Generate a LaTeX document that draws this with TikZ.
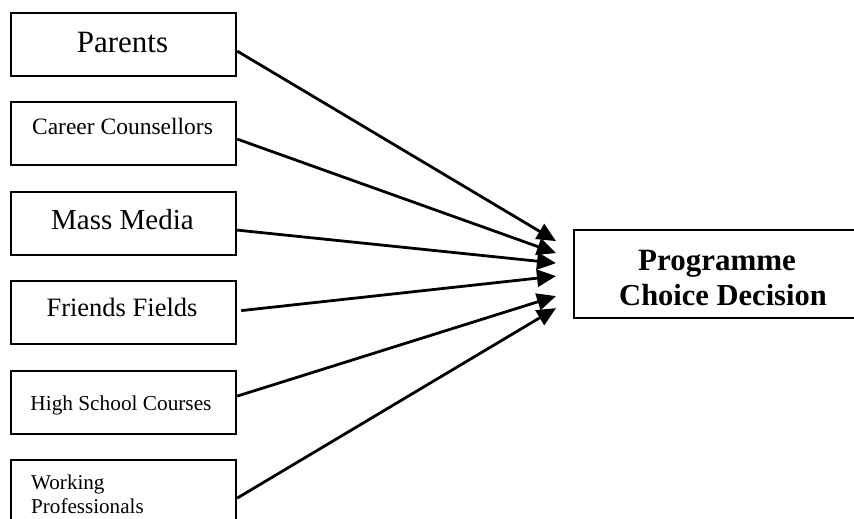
\documentclass[tikz,border=0pt]{standalone}
\usepackage{fontspec}
\setmainfont{Liberation Serif}
\usetikzlibrary{arrows.meta}
\begin{document}
\begin{tikzpicture}[x=1pt,y=1pt,
  srcbox/.style={draw,line width=2.2pt,rectangle,minimum width=225pt,minimum height=63pt,inner sep=0pt,anchor=north west},
  lbl/.style={inner sep=0pt,anchor=base},
  conn/.style={line width=2.8pt,-{Triangle[length=19pt,width=17pt]}}]
\useasboundingbox (0,0) rectangle (854,-519);
% source boxes
\node[srcbox] (p) at (10,-12) {};
\node[srcbox] (c) at (10,-101) {};
\node[srcbox] (m) at (10,-191) {};
\node[srcbox] (f) at (10,-280) {};
\node[srcbox] (h) at (10,-370) {};
\node[srcbox] (w) at (10,-459) {};
% labels
\node[lbl,font=\fontsize{31}{35}\selectfont] (pl) at (122.5,-53) {Parents};
\node[lbl,font=\fontsize{23.5}{27}\selectfont] (cl) at (122.5,-134) {Career Counsellors};
\node[lbl,font=\fontsize{29}{33}\selectfont] (ml) at (122.5,-229) {Mass Media};
\node[lbl,font=\fontsize{26.5}{30}\selectfont] (fl) at (122,-316) {Friends Fields};
\node[lbl,font=\fontsize{21.3}{25}\selectfont] (hl) at (121,-410) {High School Courses};
\node[lbl,font=\fontsize{21.1}{25}\selectfont,anchor=base west] (wl1) at (31,-489) {Working};
\node[lbl,font=\fontsize{21.1}{25}\selectfont,anchor=base west] (wl2) at (31,-513) {Professionals};
% target
\node[draw,line width=2.2pt,rectangle,minimum width=294pt,minimum height=88pt,inner sep=0pt,anchor=north west] (t) at (573,-229) {};
\node[lbl,font=\fontsize{31}{35}\bfseries\selectfont] (tl1) at (717,-270) {Programme};
\node[lbl,font=\fontsize{30.5}{35}\bfseries\selectfont] (tl2) at (723,-305) {Choice Decision};
% connectors
\draw[conn] ([yshift=-6.5pt]p.east) -- ([xshift=-17pt,yshift=33pt]t.west);
\draw[conn] ([yshift=-5.5pt]c.east) -- ([xshift=-17pt,yshift=21pt]t.west);
\draw[conn] ([yshift=-6.5pt]m.east) -- ([xshift=-17pt,yshift=11pt]t.west);
\draw[conn] ([xshift=4pt,yshift=2pt]f.east) -- ([xshift=-17pt,yshift=-2pt]t.west);
\draw[conn] ([yshift=6.5pt]h.east) -- ([xshift=-17pt,yshift=-22pt]t.west);
\draw[conn] ([yshift=-6.5pt]w.east) -- ([xshift=-17pt,yshift=-34pt]t.west);
\end{tikzpicture}
\end{document}
